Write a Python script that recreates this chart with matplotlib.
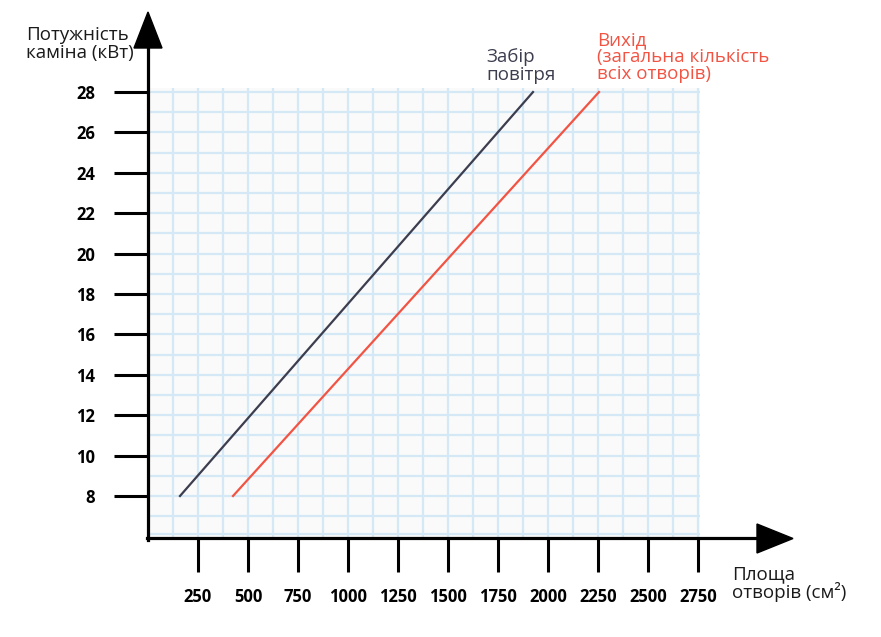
import matplotlib
matplotlib.use("Agg")
import matplotlib.pyplot as plt
from matplotlib.patches import Polygon
import numpy as np

plt.rcParams['font.family'] = ['Open Sans', 'DejaVu Sans']

# Data
intake_x = [160, 1925]
intake_y = [8, 28]
outlet_x = [425, 2255]
outlet_y = [8, 28]
x_ticks = [250, 500, 750, 1000, 1250, 1500, 1750, 2000, 2250, 2500, 2750]
y_ticks = [8, 10, 12, 14, 16, 18, 20, 22, 24, 26, 28]
x_grid = list(range(125, 2751, 125))
y_grid = [6.12] + list(range(7, 29))

y_title = "Потужність\nкаміна (кВт)"
x_title = "Площа\nотворів (см²)"
intake_label = "Забір\nповітря"
outlet_label = "Вихід\n(загальна кількість\nвсіх отворів)"

DARK = "#3c3d4e"
RED = "#f25444"
GRID = "#d4e8f6"

W, H = 881, 637
fig = plt.figure(figsize=(W / 100, H / 100), dpi=100)

def fx(px):
    return px / W

def fy(py):
    return 1 - py / H

ax = fig.add_axes([fx(148), fy(538), (700 - 148) / W, (538 - 88) / H])
ax.set_xlim(0, 2760)
ax.set_ylim(5.92, 28.2)
ax.set_facecolor("#fafafa")
for s in ax.spines.values():
    s.set_visible(False)

for gx in x_grid:
    ax.axvline(gx, color=GRID, lw=1.6, zorder=1)
for gy in y_grid:
    ax.axhline(gy, color=GRID, lw=1.6, zorder=1)

ax.plot(intake_x, intake_y, color=DARK, lw=1.6, zorder=3)
ax.plot(outlet_x, outlet_y, color=RED, lw=1.6, zorder=3)

ax.set_xticks(x_ticks)
ax.set_yticks(y_ticks)
ax.set_xticklabels([str(v) for v in x_ticks], fontweight='bold', fontsize=12)
ax.set_yticklabels([str(v) for v in y_ticks], fontweight='bold', fontsize=12)
ax.tick_params(axis='both', direction='out', length=24.5, width=2.2, color='black')
ax.tick_params(axis='y', pad=13.5)
ax.tick_params(axis='x', pad=11.5)

# Axis lines with arrows (figure pixel coordinates)
lw_axis = 2.3
fig.add_artist(plt.Line2D([fx(148), fx(148)], [fy(539.5), fy(46)], color='black', lw=lw_axis, transform=fig.transFigure))
fig.add_artist(plt.Line2D([fx(146.5), fx(758)], [fy(538), fy(538)], color='black', lw=lw_axis, transform=fig.transFigure))
fig.add_artist(Polygon([[fx(134), fy(48)], [fx(162), fy(48)], [fx(148), fy(12)]], closed=True,
                       color='black', transform=fig.transFigure))
fig.add_artist(Polygon([[fx(757), fy(524)], [fx(757), fy(553)], [fx(793), fy(538.5)]], closed=True,
                       color='black', transform=fig.transFigure))

FS = 13.5
LS = 0.93
fig.text(fx(26), fy(44), y_title, fontsize=FS, color='#1a1a1a', ha='left', va='center', linespacing=LS)
fig.text(fx(732), fy(584), x_title, fontsize=FS, color='#1a1a1a', ha='left', va='center', linespacing=LS)
fig.text(fx(486), fy(66), intake_label, fontsize=FS, color=DARK, ha='left', va='center', linespacing=LS)
fig.text(fx(597), fy(57), outlet_label, fontsize=FS, color=RED, ha='left', va='center', linespacing=LS)

fig.savefig("out.png", dpi=100)
